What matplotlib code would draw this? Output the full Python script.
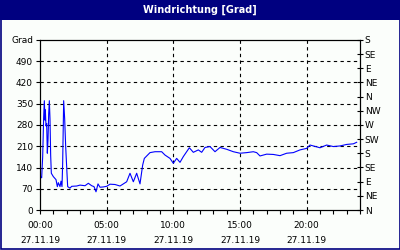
import matplotlib.pyplot as plt
from matplotlib.patches import Rectangle

navy = "#000080"
fondo = "#fbfefb"
azul = "#0000ff"

# Daten: Stunden ab 27.11.19 00:00 und Windrichtung in Grad
stunden = [0.05, 0.125, 0.2, 0.275, 0.325, 0.375, 0.4, 0.45, 0.5, 0.55, 0.6, 0.65,
           0.7, 0.75, 0.8, 0.85, 1.0, 1.2, 1.3, 1.375, 1.5, 1.575, 1.65, 1.7, 1.775,
           1.85, 1.925, 2.025, 2.075, 2.25, 2.375, 2.75, 3.0, 3.375, 3.625, 3.875,
           4.05, 4.2, 4.35, 4.5, 4.75, 5.0, 5.25, 5.625, 6.0, 6.5, 6.75, 7.0, 7.25,
           7.5, 7.7, 7.825, 8.25, 8.625, 9.125, 9.375, 9.75, 10.0, 10.25, 10.5,
           10.75, 11.2, 11.5, 11.875, 12.125, 12.375, 12.75, 13.125, 13.5, 14.0,
           14.5, 15.0, 15.5, 16.0, 16.25, 16.5, 17.0, 17.5, 18.0, 18.5, 19.0, 19.5,
           20.0, 20.25, 21.0, 21.5, 22.0, 22.5, 23.0, 23.5, 23.75]
grad = [110, 106, 175, 307, 360, 296, 330, 277, 285, 187, 230, 316,
        360, 300, 180, 121, 110, 100, 77, 90, 77, 95, 77, 154, 360,
        300, 210, 120, 77, 72, 78, 79, 82, 80, 88, 80,
        77, 60, 86, 75, 76, 78, 85, 84, 79, 93, 121, 93, 121,
        86, 148, 170, 189, 192, 192, 181, 170, 154, 170, 157,
        176, 205, 190, 198, 190, 206, 209, 192, 206, 200,
        192, 187, 189, 192, 189, 178, 184, 183, 179, 187, 189, 198,
        203, 214, 205, 214, 209, 211, 216, 218, 223]

y_ticks = [0, 70, 140, 210, 280, 350, 420, 490, 560]
y_labels = ["0", "70", "140", "210", "280", "350", "420", "490", "Grad"]
richtungen = ["N", "NE", "E", "SE", "S", "SW", "W", "NW", "N", "NE", "E", "SE", "S"]
x_ticks = [0, 5, 10, 15, 20]
x_labels = ["00:00\n27.11.19", "05:00\n27.11.19", "10:00\n27.11.19",
            "15:00\n27.11.19", "20:00\n27.11.19"]

plt.rcParams['font.family'] = 'DejaVu Sans'
plt.rcParams['font.size'] = 6.5

fig = plt.figure(figsize=(4, 2.5), dpi=100)
fig.patch.set_facecolor(fondo)
# Titelleiste und Rahmen
fig.patches.append(Rectangle((0, 1 - 20 / 250), 1, 20 / 250,
                             transform=fig.transFigure, facecolor=navy,
                             edgecolor='none'))
fig.patches.append(Rectangle((0.5 / 400, 1 / 250), 399 / 400, 248 / 250,
                             transform=fig.transFigure, facecolor='none',
                             edgecolor=navy, linewidth=1.2))
fig.text(0.5, 1 - 10 / 250, "Windrichtung [Grad]", color="white",
         fontsize=7, fontweight="bold", ha="center", va="center")

ax = fig.add_axes([40 / 400, 40 / 250, 320 / 400, 170 / 250])
ax.set_facecolor(fondo)
ax.plot(stunden, grad, color=azul, linewidth=0.8, zorder=3)

ax.set_xlim(0, 24)
ax.set_ylim(0, 560)
ax.set_yticks(y_ticks)
ax.set_yticklabels(y_labels)
ax.set_xticks(x_ticks)
ax.set_xticklabels(x_labels, linespacing=1.85)
ax.set_xticks(range(25), minor=True)
ax.tick_params(axis='both', which='both', direction='out', length=3,
               width=0.8, colors='black', pad=2)
ax.tick_params(axis='x', which='major', pad=5)

for y in y_ticks[1:-1]:
    ax.axhline(y, color='black', linewidth=0.8, linestyle=(0, (3, 3)), zorder=2)
for x in x_ticks[1:]:
    ax.axvline(x, color='black', linewidth=0.8, linestyle=(0, (3, 3)), zorder=2)

for s in ax.spines.values():
    s.set_linewidth(0.8)

ax2 = ax.twinx()
ax2.set_ylim(0, 12)
ax2.set_yticks(range(13))
ax2.set_yticklabels(richtungen)
ax2.tick_params(axis='y', direction='inout', length=5, width=0.8, pad=1)
for s in ax2.spines.values():
    s.set_linewidth(0.8)

fig.savefig("out.png", dpi=100, facecolor=fig.get_facecolor())
